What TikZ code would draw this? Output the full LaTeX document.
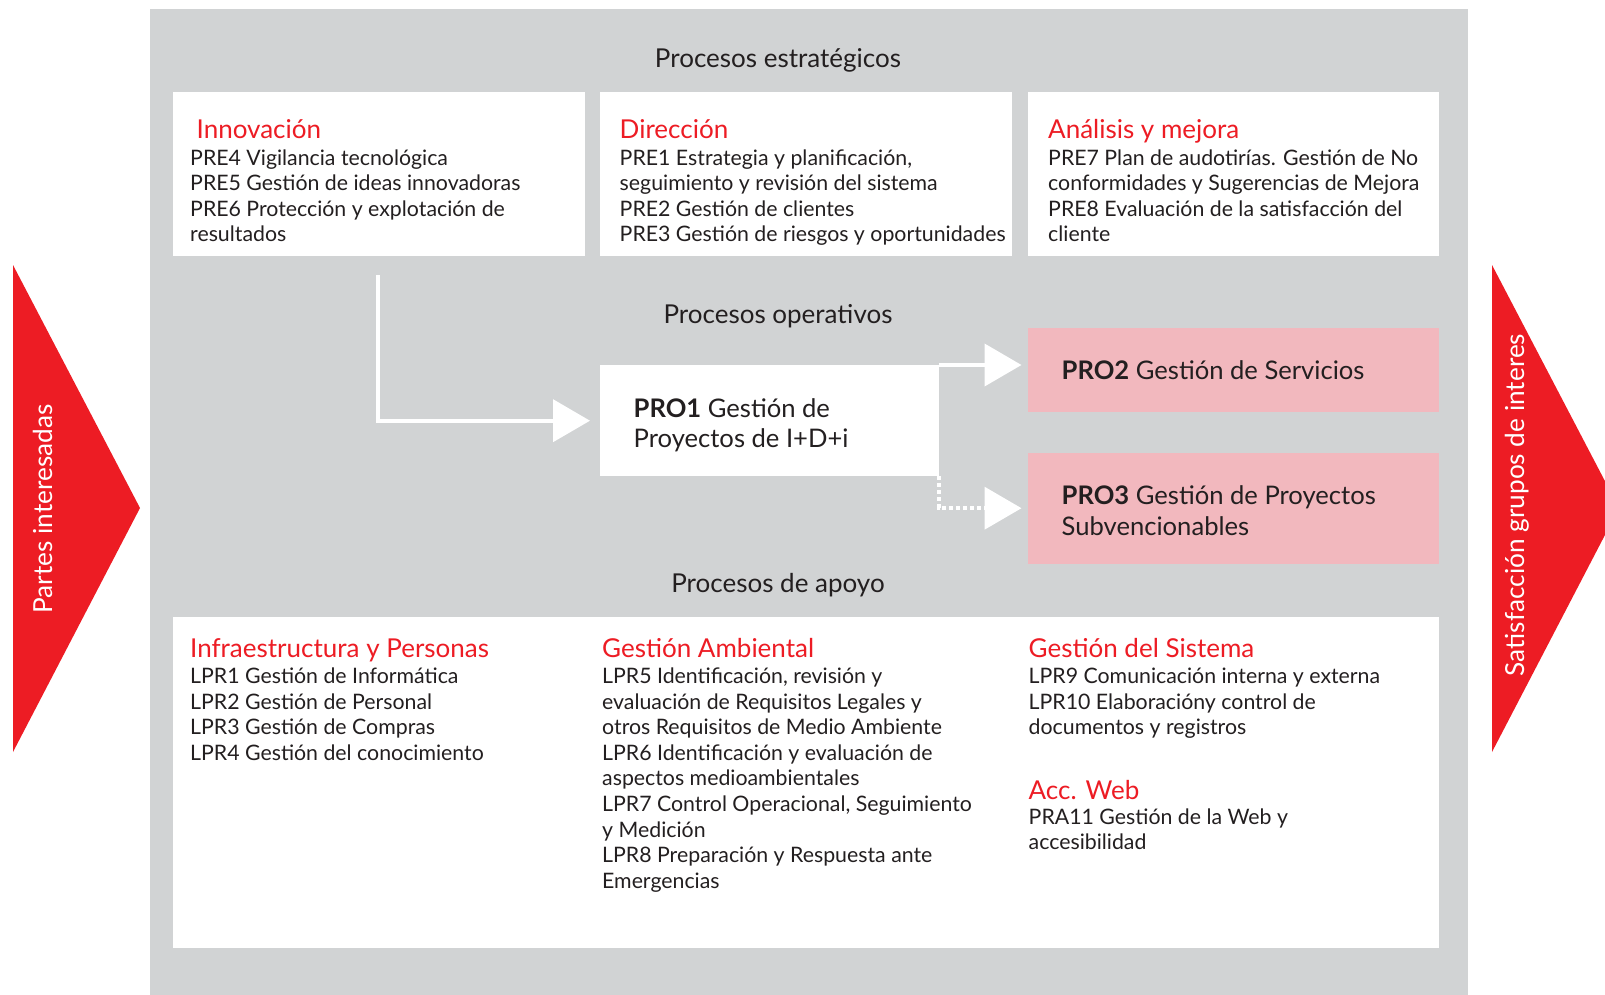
\documentclass[tikz,border=0pt]{standalone}
\usepackage{fontspec}
\setmainfont{Lato}
\usetikzlibrary{arrows.meta}
\definecolor{bggray}{HTML}{D1D3D4}
\definecolor{mred}{HTML}{ED1C24}
\definecolor{mpink}{HTML}{F2B8BE}
\definecolor{mtext}{HTML}{231F20}
\begin{document}
\begin{tikzpicture}[x=1pt,y=-1pt,
  box/.style={fill=white, draw=none, inner sep=0pt, anchor=north west},
  pinkbox/.style={fill=mpink, draw=none, inner sep=0pt, anchor=north west},
  title/.style={inner sep=0pt, anchor=base, text=mtext, font=\fontsize{26}{30}\selectfont},
  head/.style={inner sep=0pt, anchor=base west, text=mred, font=\fontsize{26}{30}\selectfont},
  body/.style={inner sep=0pt, anchor=base west, align=left, text=mtext, font=\fontsize{21.3}{25.6}\selectfont},
  protext/.style={inner sep=0pt, anchor=base west, align=left, text=mtext, font=\fontsize{25.6}{30.5}\selectfont},
  side/.style={inner sep=0pt, rotate=90, text=white, font=\fontsize{26.2}{30}\selectfont},
  conn/.style={draw=white, line width=4pt, -{Triangle[length=37pt,width=42pt]}}
]
\useasboundingbox (0,0) rectangle (1605,995);
\clip (0,0) rectangle (1605,995);
\fill[white] (0,0) rectangle (1605,995);

% background panel
\fill[bggray] (150,9.5) rectangle (1468,1000);

% side arrows
\fill[mred] (13,265) -- (140,508) -- (13,752) -- cycle;
\fill[mred] (1492,265) -- (1619,508) -- (1492,752) -- cycle;
\node[side] (partes) at (43,509) {Partes interesadas};
\node[side] (satis) at (1517,505) {Satisfacción grupos de interes};

% titles
\node[title] (testr) at (778,68) {Procesos estratégicos};
\node[title] (toper) at (778,323) {Procesos operativos};
\node[title] (tapoyo) at (778,592) {Procesos de apoyo};

% strategic boxes (base anchor of a multi-line block = last line)
\node[box, minimum width=411.5pt, minimum height=164pt] (inno) at (173,92) {};
\node[box, minimum width=412pt, minimum height=164pt] (dir) at (600,92) {};
\node[box, minimum width=411pt, minimum height=164pt] (anal) at (1027.5,92) {};

\node[head] (innoh) at (196.5,138.5) {Innovación};
\node[body] (innob) at (190,241.8) {PRE4 Vigilancia tecnológica\\PRE5 Gestión de ideas innovadoras\\PRE6 Protección y explotación de\\resultados};

\node[head] (dirh) at (619.5,138.5) {Dirección};
\node[body] (dirb) at (619.5,241.8) {PRE1 Estrategia y planificación,\\seguimiento y revisión del sistema\\PRE2 Gestión de clientes\\PRE3 Gestión de riesgos y oportunidades};

\node[head] (analh) at (1048,138.5) {Análisis y mejora};
\node[body] (analb) at (1048,241.8) {PRE7 Plan de audotirías. Gestión de No\\conformidades y Sugerencias de Mejora\\PRE8 Evaluación de la satisfacción del\\cliente};

% operative boxes
\node[box, minimum width=338.5pt, minimum height=111pt] (pro1) at (600,365) {};
\node[pinkbox, minimum width=411pt, minimum height=84pt] (pro2) at (1027.5,327.5) {};
\node[pinkbox, minimum width=411pt, minimum height=110.6pt] (pro3) at (1027.5,452.7) {};

\node[protext] (pro1t) at (633.5,447.5) {\textbf{PRO1} Gestión de\\Proyectos de I+D+i};
\node[protext] (pro2t) at (1061.5,379.5) {\textbf{PRO2} Gestión de Servicios};
\node[protext] (pro3t) at (1061.5,535) {\textbf{PRO3} Gestión de Proyectos\\Subvencionables};

% connectors
\draw[conn, shorten >=10pt] ([shift={(205,19)}]inno.south west) |- (pro1.west);
\draw[conn, shorten >=6pt] (pro1.north east) -- (pro1.north east -| pro2.west);
\draw[conn, dash pattern=on 4pt off 3pt, shorten >=6pt] (pro1.south east) |- (pro3.west);

% support box
\node[box, minimum width=1265.5pt, minimum height=331pt] (apoyo) at (173,617) {};

\node[head] (infh) at (190,657.5) {Infraestructura y Personas};
\node[body] (infb) at (190,760.3) {LPR1 Gestión de Informática\\LPR2 Gestión de Personal\\LPR3 Gestión de Compras\\LPR4 Gestión del conocimiento};

\node[head] (ambh) at (602,657.5) {Gestión Ambiental};
\node[body] (ambb) at (602,888.3) {LPR5 Identificación, revisión y\\evaluación de Requisitos Legales y\\otros Requisitos de Medio Ambiente\\LPR6 Identificación y evaluación de\\aspectos medioambientales\\LPR7 Control Operacional, Seguimiento\\y Medición\\LPR8 Preparación y Respuesta ante\\Emergencias};

\node[head] (sish) at (1028.5,657.5) {Gestión del Sistema};
\node[body] (sisb) at (1028.5,734.7) {LPR9 Comunicación interna y externa\\LPR10 Elaboracióny control de\\documentos y registros};

\node[head] (webh) at (1028.5,799) {Acc. Web};
\node[body] (webb) at (1028.5,849.6) {PRA11 Gestión de la Web y\\accesibilidad};
\end{tikzpicture}
\end{document}
